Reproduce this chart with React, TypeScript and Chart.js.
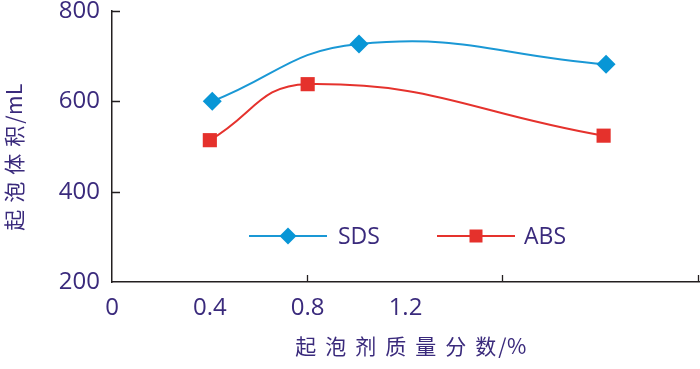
import React, { useEffect, useRef } from 'react';
import { Chart, registerables } from 'chart.js';

Chart.register(...registerables);

// ---- data ----
const seriesNames = ['SDS', 'ABS'];
const sdsX = [0.41, 1.01, 2.02];
const sdsY = [600, 727, 682];
const absX = [0.4, 0.8, 2.01];
const absY = [514, 638, 524];
const xLabelValues = [0, 0.4, 0.8, 1.2];
const xMarkValues = [0.8, 1.6, 2.4];
const yTickValues = [200, 400, 600, 800];
const xTitle = '起泡剂质量分数/%';
const yTitle = '起泡体积/mL';

const TEXT = '#3a2a7c';
const AXIS = '#231f20';
const BLUE = '#1a98d5';
const RED = '#e5322d';
const NUM_FONT = '"Open Sans", "Noto Sans", sans-serif';
const CJK_FONT = '"Noto Sans CJK SC", "Noto Sans", sans-serif';

function drawSpacedTitle(ctx: any, text: string, cx: number, cy: number, cjkSpacing: number) {
  const idx = text.indexOf('/');
  const head = idx >= 0 ? text.slice(0, idx) : text;
  const tail = idx >= 0 ? text.slice(idx) : '';
  ctx.textBaseline = 'middle';
  ctx.textAlign = 'left';
  ctx.letterSpacing = cjkSpacing + 'px';
  const w1 = ctx.measureText(head).width - cjkSpacing + 2;
  ctx.letterSpacing = '0.5px';
  const w2 = ctx.measureText(tail).width;
  const total = w1 + w2;
  const x0 = cx - total / 2;
  ctx.letterSpacing = cjkSpacing + 'px';
  ctx.fillText(head, x0, cy);
  ctx.letterSpacing = '0.5px';
  ctx.fillText(tail, x0 + w1, cy);
  ctx.letterSpacing = '0px';
}

const decorPlugin = {
  id: 'decor',
  afterDraw(chart: any) {
    const ctx = chart.ctx;
    const area = chart.chartArea;
    const xs = chart.scales.x;
    const ys = chart.scales.y;
    ctx.save();
    // inward tick marks
    ctx.strokeStyle = AXIS;
    ctx.lineWidth = 1.3;
    ctx.beginPath();
    for (const v of xMarkValues) {
      const px = Math.round(xs.getPixelForValue(v)) - 0.5;
      ctx.moveTo(px, area.bottom);
      ctx.lineTo(px, area.bottom - 7);
    }
    for (const v of yTickValues.slice(1)) {
      const py = Math.round(ys.getPixelForValue(v)) + 0.5;
      ctx.moveTo(area.left, py);
      ctx.lineTo(area.left + 8, py);
    }
    ctx.stroke();

    // axis titles
    ctx.fillStyle = TEXT;
    ctx.font = `21px ${CJK_FONT}`;
    drawSpacedTitle(ctx, xTitle, 411, 346, 9);
    ctx.save();
    ctx.translate(14, 157);
    ctx.rotate(-Math.PI / 2);
    drawSpacedTitle(ctx, yTitle, 0, 0, 7);
    ctx.restore();

    // in-chart legend
    const ly = area.top + 225;
    const items = [
      { x0: 249, x1: 327, tx: 338 },
      { x0: 437, x1: 515, tx: 524 },
    ];
    chart.data.datasets.forEach((ds: any, i: number) => {
      const it = items[i];
      ctx.strokeStyle = ds.borderColor;
      ctx.lineWidth = 2;
      ctx.beginPath();
      ctx.moveTo(it.x0, ly);
      ctx.lineTo(it.x1, ly);
      ctx.stroke();
      ctx.fillStyle = ds.pointBackgroundColor;
      ctx.beginPath();
      const cx = (it.x0 + it.x1) / 2;
      if (ds.pointStyle === 'rectRot') {
        const r = 8.5;
        ctx.moveTo(cx - r, ly);
        ctx.lineTo(cx, ly - r);
        ctx.lineTo(cx + r, ly);
        ctx.lineTo(cx, ly + r);
        ctx.closePath();
      } else {
        ctx.rect(cx - 6.5, ly - 6.5, 13, 13);
      }
      ctx.fill();
      ctx.fillStyle = TEXT;
      ctx.textAlign = 'left';
      ctx.textBaseline = 'middle';
      ctx.font = `23px ${NUM_FONT}`;
      ctx.fillText(ds.label, it.tx, ly + 1);
    });
    ctx.restore();
  },
};

export default function App() {
  const ref = useRef<HTMLCanvasElement | null>(null);
  useEffect(() => {
    if (!ref.current) return;
    const chart = new Chart(ref.current, {
      type: 'line',
      data: {
        datasets: [
          {
            label: seriesNames[0],
            data: sdsX.map((x, i) => ({ x, y: sdsY[i] })),
            borderColor: BLUE,
            backgroundColor: BLUE,
            pointBackgroundColor: '#0896d6',
            pointBorderColor: '#0896d6',
            pointBorderWidth: 0,
            pointStyle: 'rectRot',
            pointRadius: 9.5,
            borderWidth: 2,
            tension: 0.45,
          },
          {
            label: seriesNames[1],
            data: absX.map((x, i) => ({ x, y: absY[i] })),
            borderColor: RED,
            backgroundColor: RED,
            pointBackgroundColor: '#e5312c',
            pointBorderColor: '#e5312c',
            pointBorderWidth: 0,
            pointStyle: 'rect',
            pointRadius: 10,
            borderWidth: 2,
            tension: 0.45,
          },
        ],
      },
      options: {
        animation: false,
        responsive: true,
        maintainAspectRatio: false,
        layout: { autoPadding: false, padding: { top: 11, right: 1, left: 0, bottom: 0 } },
        plugins: { legend: { display: false }, tooltip: { enabled: false } },
        scales: {
          x: {
            type: 'linear',
            min: 0,
            max: 2.4,
            afterFit: (s: any) => {
              s.height = 87;
              s.paddingLeft = 0;
              s.paddingRight = 0;
            },
            afterBuildTicks: (s: any) => {
              s.ticks = [0, 0.4, 0.8, 1.2, 1.6, 2.0, 2.4].map((v) => ({ value: v }));
            },
            ticks: {
              autoSkip: false,
              maxRotation: 0,
              padding: 12,
              color: TEXT,
              font: { family: NUM_FONT, size: 24 },
              callback: (v: any) => {
                const n = Number(v);
                const m = xLabelValues.find((t) => Math.abs(t - n) < 1e-6);
                if (m === undefined) return '';
                return m === 0 ? '0' : m.toFixed(1);
              },
            },
            grid: { display: false, drawTicks: false },
            border: { display: true, color: AXIS, width: 1.5 },
          },
          y: {
            type: 'linear',
            min: 200,
            max: 800,
            afterFit: (s: any) => {
              s.width = 112;
              s.paddingTop = 0;
              s.paddingBottom = 0;
            },
            afterBuildTicks: (s: any) => {
              s.ticks = yTickValues.map((v) => ({ value: v }));
            },
            ticks: {
              padding: 12,
              color: TEXT,
              font: { family: NUM_FONT, size: 24 },
            },
            grid: { display: false, drawTicks: false },
            border: { display: true, color: AXIS, width: 1.5 },
          },
        },
      },
      plugins: [decorPlugin],
    } as any);
    return () => chart.destroy();
  }, []);
  return (
    <div style={{ position: 'fixed', left: 0, top: 0, width: 700, height: 369, background: '#fff' }}>
      <canvas ref={ref} />
    </div>
  );
}
